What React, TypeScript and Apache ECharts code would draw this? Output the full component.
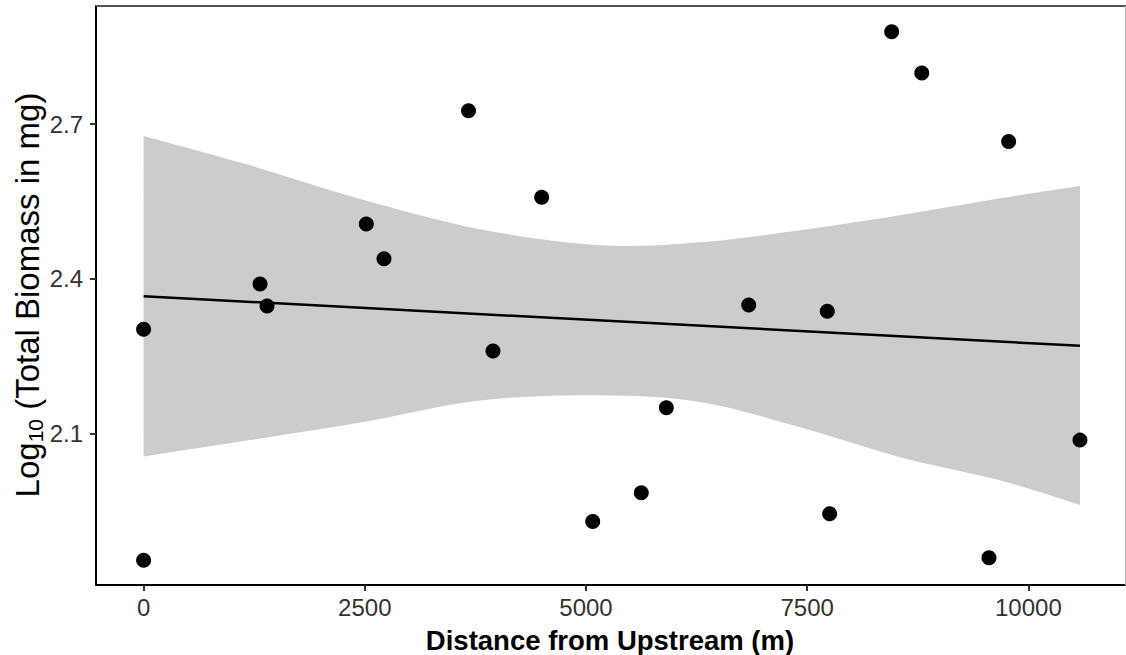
import React, { useEffect, useRef } from "react";
import * as echarts from "echarts";

// Observed points: distance from upstream (m) and log10 total biomass (mg)
const distance = [0, 0, 1316, 1395, 2517, 2717, 3672, 3949, 4499, 5076, 5625, 5908, 6839, 7727, 7754, 8455, 8795, 9555, 9777, 10583];
const logBiomass = [1.854, 2.302, 2.39, 2.347, 2.506, 2.439, 2.726, 2.26, 2.558, 1.929, 1.985, 2.15, 2.349, 2.337, 1.944, 2.879, 2.799, 1.859, 2.666, 2.087];

// Fitted regression line endpoints
const fitX = [0, 10583];
const fitY = [2.366, 2.27];

// Confidence band
const bandX = [0, 1203, 2480, 3802, 5158, 6289, 7419, 8549, 9679, 10583];
const bandUpper = [2.677, 2.62, 2.553, 2.496, 2.465, 2.471, 2.494, 2.523, 2.556, 2.58];
const bandLower = [2.055, 2.087, 2.122, 2.164, 2.174, 2.161, 2.112, 2.054, 2.009, 1.961];

const xTicks = [0, 2500, 5000, 7500, 10000];
const yTicks = [2.1, 2.4, 2.7];

const FONT = "'Liberation Sans', Arial, Helvetica, sans-serif";

type P = number[];
function splinePath(pts: P[], start: boolean): string {
  let d = start ? `M${pts[0][0]},${pts[0][1]}` : `L${pts[0][0]},${pts[0][1]}`;
  const n = pts.length;
  for (let i = 0; i < n - 1; i++) {
    const p0 = pts[Math.max(0, i - 1)];
    const p1 = pts[i];
    const p2 = pts[i + 1];
    const p3 = pts[Math.min(n - 1, i + 2)];
    const c1x = p1[0] + (p2[0] - p0[0]) / 6;
    const c1y = p1[1] + (p2[1] - p0[1]) / 6;
    const c2x = p2[0] - (p3[0] - p1[0]) / 6;
    const c2y = p2[1] - (p3[1] - p1[1]) / 6;
    d += ` C${c1x},${c1y} ${c2x},${c2y} ${p2[0]},${p2[1]}`;
  }
  return d;
}

export default function App() {
  const ref = useRef<HTMLDivElement>(null);
  useEffect(() => {
    if (!ref.current) return;
    const chart = echarts.init(ref.current, null, { renderer: "svg" });
    const axisCommon = {
      type: "value" as const,
      z: 10,
      splitLine: { show: false },
      axisLine: { show: true, onZero: false, lineStyle: { color: "#000", width: 2 } },
    };
    chart.setOption({
      animation: false,
      backgroundColor: "#fff",
      grid: { left: 96, right: 1, top: 6, bottom: 70, containLabel: false },
      xAxis: {
        ...axisCommon,
        min: -538,
        max: 11092,
        axisTick: { show: true, length: 6, customValues: xTicks, lineStyle: { color: "#333", width: 2 } },
        axisLabel: {
          customValues: xTicks,
          fontSize: 24,
          color: "#333",
          margin: 10,
          fontFamily: FONT,
          formatter: (v: number) => String(v),
        },
      },
      yAxis: {
        ...axisCommon,
        min: 1.806,
        max: 2.929,
        axisTick: { show: true, length: 6, customValues: yTicks, lineStyle: { color: "#333", width: 2 } },
        axisLabel: {
          customValues: yTicks,
          fontSize: 24,
          color: "#333",
          margin: 13,
          fontFamily: FONT,
          formatter: (v: number) => v.toFixed(1),
        },
      },
      series: [
        {
          type: "custom",
          data: [0],
          silent: true,
          z: 1,
          renderItem: (_params: any, api: any) => {
            const up = bandX.map((x, i) => api.coord([x, bandUpper[i]]));
            const lo = bandX.map((x, i) => api.coord([x, bandLower[i]])).reverse();
            const d = splinePath(up, true) + " " + splinePath(lo, false) + " Z";
            return {
              type: "path",
              shape: { pathData: d },
              style: { fill: "#cccccc", stroke: "none" },
            };
          },
        },
        {
          type: "line",
          data: fitX.map((x, i) => [x, fitY[i]]),
          symbol: "none",
          lineStyle: { color: "#000", width: 2.5 },
          z: 3,
        },
        {
          type: "scatter",
          data: distance.map((x, i) => [x, logBiomass[i]]),
          symbolSize: 15,
          itemStyle: { color: "#000", opacity: 1 },
          z: 4,
        },
      ],
      graphic: [
        { type: "line", z: 20, shape: { x1: 96, y1: 6, x2: 1126, y2: 6 }, style: { stroke: "#555", lineWidth: 2 } },
        { type: "line", z: 20, shape: { x1: 1125.5, y1: 6, x2: 1125.5, y2: 585 }, style: { stroke: "#bbb", lineWidth: 1 } },
        {
          type: "text",
          x: 610,
          y: 640,
          style: {
            text: "Distance from Upstream (m)",
            font: `bold 27.5px ${FONT}`,
            fill: "#000",
            align: "center",
            verticalAlign: "middle",
          },
        },
        {
          type: "text",
          x: 27,
          y: 295,
          rotation: Math.PI / 2,
          style: {
            text: "{a|Log}{s|10}{a| (Total Biomass in mg)}",
            align: "center",
            verticalAlign: "middle",
            fill: "#000",
            rich: {
              a: { fontSize: 33, fontFamily: FONT, lineHeight: 38, fill: "#000" },
              s: { fontSize: 21, fontFamily: FONT, lineHeight: 21, verticalAlign: "bottom", fill: "#000" },
            },
          },
        },
      ],
    });
    return () => chart.dispose();
  }, []);
  return (
    <div
      ref={ref}
      style={{ position: "fixed", left: 0, top: 0, width: 1126, height: 655, background: "#fff" }}
    />
  );
}
